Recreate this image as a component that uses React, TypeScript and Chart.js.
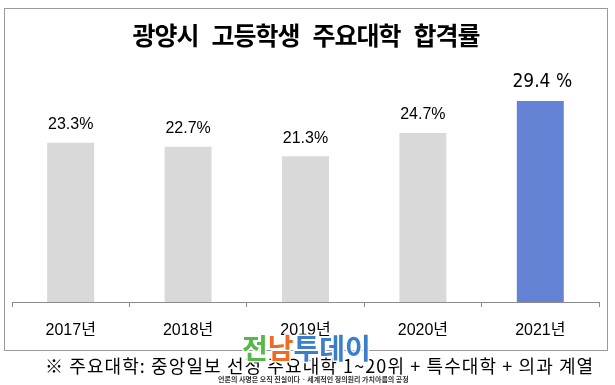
import React, { useEffect, useRef } from "react";
import { Chart, registerables } from "chart.js";

Chart.register(...registerables);

const categories = ["2017년", "2018년", "2019년", "2020년", "2021년"];
const rates = [23.3, 22.7, 21.3, 24.7, 29.4];
const valueLabels = ["23.3%", "22.7%", "21.3%", "24.7%", "29.4 %"];
const barColors = ["#d9d9d9", "#d9d9d9", "#d9d9d9", "#d9d9d9", "#6483d4"];
const titleWords = ["광양시", "고등학생", "주요대학", "합격률"];
const noteText = "※ 주요대학: 중앙일보 선정 주요대학 1~20위 + 특수대학 + 의과 계열";
const watermarkParts = [
  { text: "전", color: "#54b947" },
  { text: "남", color: "#ee6b21" },
  { text: "투데이", color: "#3b7fcb" },
];
const watermarkSub = "언론의 사명은 오직 진실이다 · 세계적인 정의원리 가치아름의 공정";

const KR = "'Noto Sans CJK KR', 'Noto Sans', sans-serif";

const decorPlugin = {
  id: "decor",
  beforeDraw(chart: any) {
    const ctx = chart.ctx;
    ctx.save();
    ctx.fillStyle = "#ffffff";
    ctx.fillRect(0, 0, chart.width, chart.height);
    ctx.strokeStyle = "#9a9a9a";
    ctx.lineWidth = 1;
    ctx.strokeRect(4.5, 8.5, 603, 342);
    // title, word by word with wide gaps
    ctx.fillStyle = "#000000";
    ctx.font = `bold 25px ${KR}`;
    (ctx as any).letterSpacing = "-1px";
    ctx.textAlign = "left";
    ctx.textBaseline = "middle";
    const gap = 13;
    const widths = titleWords.map((w) => ctx.measureText(w).width);
    const total = widths.reduce((a, b) => a + b, 0) + gap * (titleWords.length - 1);
    let tx = 306 - total / 2;
    titleWords.forEach((w, i) => {
      ctx.fillText(w, tx, 35);
      tx += widths[i] + gap;
    });
    (ctx as any).letterSpacing = "0px";
    ctx.restore();
  },
  afterDraw(chart: any) {
    const ctx = chart.ctx;
    ctx.save();
    // value labels
    const meta = chart.getDatasetMeta(0);
    meta.data.forEach((bar: any, i: number) => {
      const last = i === valueLabels.length - 1;
      ctx.fillStyle = "#000000";
      ctx.textAlign = "center";
      ctx.textBaseline = "middle";
      ctx.font = last
        ? "19px 'Liberation Sans Narrow', 'DejaVu Sans Condensed', sans-serif"
        : "16px 'Liberation Sans', sans-serif";
      ctx.fillText(valueLabels[i], bar.x + (last ? 2 : 0), bar.y - (last ? 19 : 18));
    });
    // footnote
    ctx.fillStyle = "#000000";
    ctx.font = `18px ${KR}`;
    (ctx as any).letterSpacing = "1.1px";
    ctx.textAlign = "left";
    ctx.textBaseline = "middle";
    ctx.fillText(noteText, 45, 366);
    (ctx as any).letterSpacing = "0px";
    // watermark
    ctx.font = `bold 28px ${KR}`;
    ctx.textBaseline = "middle";
    let x = 242;
    watermarkParts.forEach((p) => {
      ctx.lineWidth = 3;
      ctx.strokeStyle = "#ffffff";
      ctx.lineJoin = "round";
      ctx.strokeText(p.text, x, 348);
      ctx.fillStyle = p.color;
      ctx.fillText(p.text, x, 348);
      x += ctx.measureText(p.text).width;
    });
    ctx.font = `bold 7px ${KR}`;
    ctx.fillStyle = "#333333";
    ctx.textAlign = "left";
    ctx.fillText(watermarkSub, 218, 379);
    ctx.restore();
  },
};

export default function App() {
  const ref = useRef<HTMLCanvasElement | null>(null);
  useEffect(() => {
    document.body.style.margin = "0";
    const canvas = ref.current;
    if (!canvas) return;
    const chart = new Chart(canvas, {
      type: "bar",
      data: {
        labels: categories,
        datasets: [
          {
            data: rates,
            backgroundColor: barColors,
            borderWidth: 0,
            categoryPercentage: 1,
            barPercentage: 0.4,
          },
        ],
      },
      options: {
        animation: false,
        responsive: false,
        devicePixelRatio: 1,
        layout: { padding: { left: 12, right: 16, top: 62.6, bottom: 35 } },
        plugins: {
          legend: { display: false },
          title: { display: false },
          tooltip: { enabled: false },
        },
        scales: {
          x: {
            offset: true,
            afterFit: (scale: any) => {
              scale.height = 48;
            },
            grid: {
              display: true,
              offset: true,
              drawOnChartArea: false,
              drawTicks: true,
              tickLength: 5,
              color: "#8c8c8c",
            },
            border: { display: true, color: "#8c8c8c", width: 1 },
            ticks: {
              color: "#000000",
              padding: 14,
              font: { size: 16, family: "'Liberation Sans', 'Noto Sans CJK KR', sans-serif" },
            },
          },
          y: {
            display: false,
            min: 0,
            max: 35,
          },
        },
      },
      plugins: [decorPlugin],
    } as any);
    return () => chart.destroy();
  }, []);
  return <canvas ref={ref} width={615} height={385} style={{ display: "block" }} />;
}
